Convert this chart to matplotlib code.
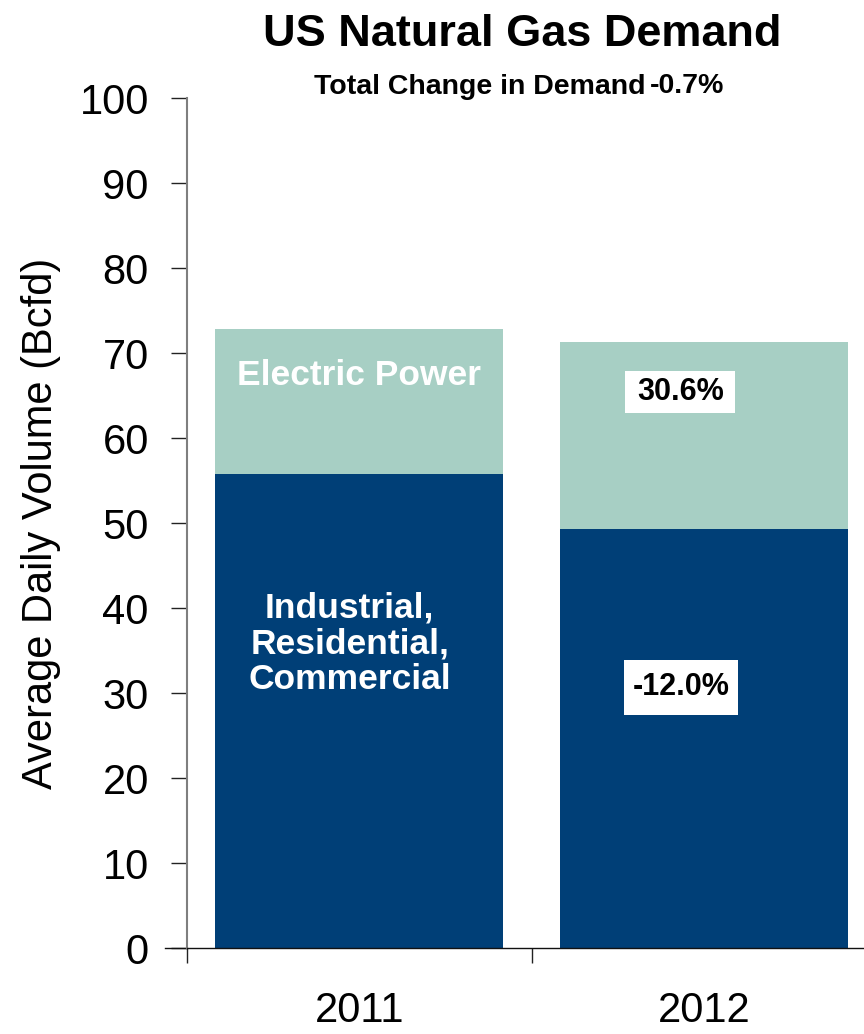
import matplotlib
matplotlib.use("Agg")
import matplotlib.pyplot as plt
from matplotlib.patches import Rectangle
from matplotlib.lines import Line2D

plt.rcParams['font.family'] = ['Liberation Sans', 'DejaVu Sans']

# ---- data ----
years = ["2011", "2012"]
industrial_res_comm = [55.8, 49.3]
electric_power = [17.0, 22.0]
change_labels = ["-12.0%", "30.6%"]
title = "US Natural Gas Demand"
subtitle = "Total Change in Demand"
total_change = "-0.7%"
yticks = list(range(0, 101, 10))

DARK = "#003F77"
LIGHT = "#A7CFC4"

fig = plt.figure(figsize=(8.64, 10.34), dpi=100)
ax = fig.add_axes([187/864, 86/1034, 689/864, 849.7/1034])

x = list(range(len(years)))
w = 0.836
ax.bar(x, industrial_res_comm, width=w, color=DARK, zorder=2)
ax.bar(x, electric_power, width=w, bottom=industrial_res_comm, color=LIGHT, zorder=2)

ax.set_xlim(-0.5, len(years) - 0.5)
ax.set_ylim(0, 100)
ax.set_yticks(yticks)
ax.set_yticklabels([str(v) for v in yticks], fontsize=30)
ax.tick_params(axis='y', direction='out', length=11.5, width=1.0, color='#222222', pad=16)

ax.set_xticks(x)
ax.set_xticklabels(years, fontsize=30)
ax.tick_params(axis='x', which='major', length=0, pad=31)
ax.set_xticks([i - 0.5 for i in range(len(years) + 1)], minor=True)
ax.tick_params(axis='x', which='minor', direction='out', length=11, width=1.0, color='#222222')

for s in ['top', 'right']:
    ax.spines[s].set_visible(False)
ax.spines['left'].set_color('#7f7f7f')
ax.spines['left'].set_linewidth(1.5)
ax.spines['bottom'].set_color('#111111')
ax.spines['bottom'].set_linewidth(1.0)
# x-axis line extends slightly left of the y-axis
ax.add_line(Line2D([-22/689, 0], [0, 0], transform=ax.transAxes, color='#111111',
                   linewidth=1.0, clip_on=False))

ax.set_ylabel("Average Daily Volume (Bcfd)", fontsize=30)
ax.yaxis.set_label_coords(-126/689, 0.5)

# in-bar labels
ax.text(0, 67.4, "Electric Power", color='white', fontsize=25.5, fontweight='bold',
        ha='center', va='center', zorder=3)
ax.text(-0.028, 35.8, "Industrial,\nResidential,\nCommercial", color='white', fontsize=25.5,
        fontweight='bold', ha='center', va='center', linespacing=1.12, zorder=3)

# change boxes for 2012
box_specs = [(0.935, 30.7, 114/344.5, 55/8.5, change_labels[0]),
             (0.932, 65.4, 110/344.5, 42/8.5, change_labels[1])]
for cx, cy, bw, bh, lab in box_specs:
    ax.add_patch(Rectangle((cx - bw/2, cy - bh/2), bw, bh, facecolor='white',
                           edgecolor='none', zorder=3))
    ax.text(cx, cy, lab, fontsize=22, fontweight='bold', ha='center', va='center',
            color='black', zorder=4)

fig.text(522/864, 1 - 34/1034, title, fontsize=32.5, fontweight='bold',
         ha='center', va='center')
fig.text(645/864, 1 - 87/1034, subtitle, fontsize=20.5, fontweight='bold',
         ha='right', va='center')
fig.text(650/864, 1 - 86/1034, total_change, fontsize=20.5, fontweight='bold',
         ha='left', va='center')

fig.savefig("out.png", dpi=100)
